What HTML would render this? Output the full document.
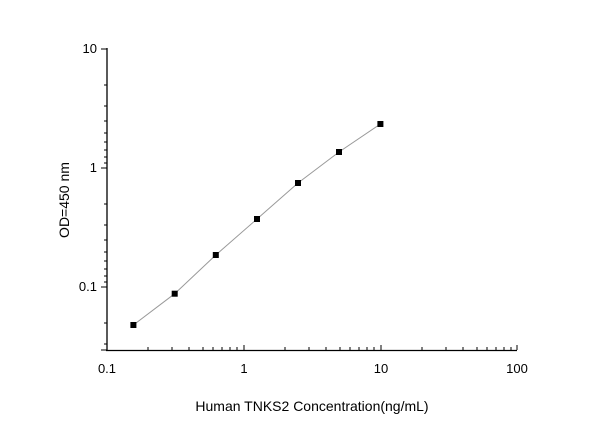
<!DOCTYPE html><html><head><style>body{margin:0;background:#fff}</style></head><body>
<svg width="600" height="419" xmlns="http://www.w3.org/2000/svg" font-family="Liberation Sans, Arial, sans-serif">
<g stroke="#000" stroke-width="1.3" fill="none">
<line x1="107" y1="48" x2="107" y2="351"/>
<line x1="106" y1="350.5" x2="517" y2="350.5"/>
</g>
<polyline fill="none" stroke="#999" stroke-width="1" points="133.4,325 174.7,293.7 215.8,255 257,219 298,183 339,152 380.4,124"/>
<g fill="#000">
<rect x="130.4" y="322" width="6" height="6"/><rect x="171.7" y="290.7" width="6" height="6"/><rect x="212.8" y="252" width="6" height="6"/><rect x="254" y="216" width="6" height="6"/><rect x="295" y="180" width="6" height="6"/><rect x="336" y="149" width="6" height="6"/><rect x="377.4" y="121" width="6" height="6"/>
</g>
<g font-size="13" fill="#000">
<text x="97" y="53" text-anchor="end">10</text>
<text x="97" y="172" text-anchor="end">1</text>
<text x="97" y="291" text-anchor="end">0.1</text>
<text x="107" y="373" text-anchor="middle">0.1</text>
<text x="244" y="373" text-anchor="middle">1</text>
<text x="381" y="373" text-anchor="middle">10</text>
<text x="517" y="373" text-anchor="middle">100</text>
<text x="312" y="411" text-anchor="middle" font-size="14">Human TNKS2 Concentration(ng/mL)</text>
<text transform="translate(69,200) rotate(-90)" text-anchor="middle" font-size="14">OD=450 nm</text>
</g>
<g stroke="#000" stroke-width="1">
<path d="M107 49h-6M107 168h-6M107 287h-6M107 350h-6
M107 85h-3M107 106h-3M107 121h-3M107 133h-3M107 142h-3M107 150h-3M107 157h-3M107 163h-3
M107 204h-3M107 225h-3M107 240h-3M107 252h-3M107 261h-3M107 269h-3M107 276h-3M107 282h-3
M107 323h-3M107 344h-3
M244 350v-5M381 350v-5M517 350v-5
M148 350v-3M172 350v-3M189 350v-3M203 350v-3M213 350v-3M222 350v-3M230 350v-3M237 350v-3
M285 350v-3M309 350v-3M326 350v-3M340 350v-3M350 350v-3M359 350v-3M367 350v-3M374 350v-3
M422 350v-3M446 350v-3M463 350v-3M477 350v-3M487 350v-3M496 350v-3M504 350v-3M511 350v-3"/>
</g>
</svg>
</body></html>
